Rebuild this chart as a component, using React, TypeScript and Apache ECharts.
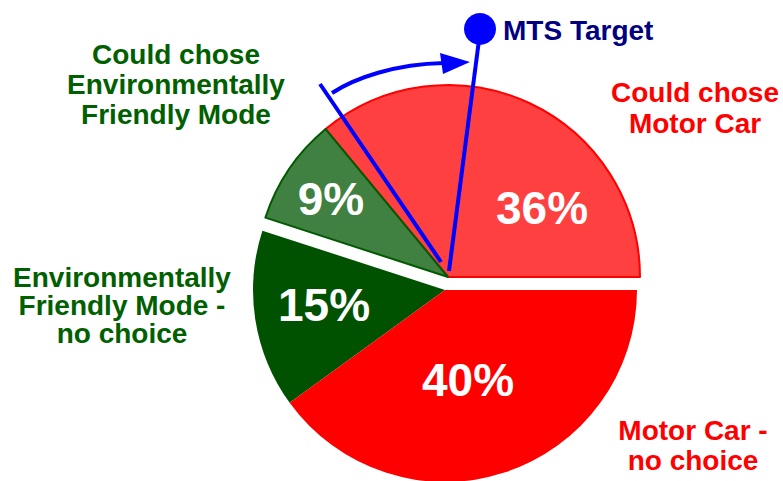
import React, { useEffect, useRef } from "react";
import * as echarts from "echarts";

const categories = [
  "Could chose Motor Car",
  "Could chose Environmentally Friendly Mode",
  "Environmentally Friendly Mode - no choice",
  "Motor Car - no choice",
];
const values = [36, 9, 15, 40];
const exploded = [true, true, false, false];
const sliceColors = ["#FF4040", "#408040", "#005200", "#FF0000"];
const sliceBorders = ["#FF0000", "#005A00", "#005200", "#FF0000"];
const sliceLabels = [
  "Could chose\nMotor Car",
  "Could chose\nEnvironmentally\nFriendly Mode",
  "Environmentally\nFriendly Mode -\nno choice",
  "Motor Car -\nno choice",
];
const targetLabel = "MTS Target";

// layout (not data)
const pctPos = [
  [542, 208],
  [331, 199],
  [324, 305],
  [468, 380],
];
const labelPos = [
  [695, 108, 31],
  [176, 84, 30],
  [122, 305, 28],
  [693, 445, 30],
];
const labelColors = ["#FF0000", "#006000", "#006000", "#FF0000"];

export default function App() {
  const ref = useRef<HTMLDivElement>(null);
  useEffect(() => {
    document.body.style.margin = "0";
    const chart = echarts.init(ref.current!, null, { renderer: "svg" });
    const font = "'Liberation Sans', Arial, sans-serif";
    const mkData = (showExploded: boolean) =>
      values.map((v, i) => {
        const visible = exploded[i] === showExploded;
        return {
          name: categories[i],
          value: v,
          itemStyle: visible
            ? { color: sliceColors[i], borderColor: sliceBorders[i], borderWidth: exploded[i] ? 2 : 0 }
            : { color: "rgba(0,0,0,0)", borderWidth: 0 },
        };
      });
    const pieCommon = {
      type: "pie",
      radius: 192,
      startAngle: 0,
      clockwise: false,
      silent: true,
      label: { show: false },
      labelLine: { show: false },
      emphasis: { disabled: true },
      avoidLabelOverlap: false,
    };
    const graphics: any[] = [];
    values.forEach((v, i) => {
      graphics.push({
        type: "text",
        z: 100,
        x: pctPos[i][0],
        y: pctPos[i][1],
        style: {
          text: `${v}%`,
          fill: "#FFFFFF",
          font: `bold 46px ${font}`,
          align: "center",
          verticalAlign: "middle",
        },
      });
      graphics.push({
        type: "text",
        z: 100,
        x: labelPos[i][0],
        y: labelPos[i][1],
        style: {
          text: sliceLabels[i],
          fill: labelColors[i],
          font: `bold 28px ${font}`,
          lineHeight: labelPos[i][2],
          align: "center",
          verticalAlign: "middle",
        },
      });
    });
    const blue = "#0000FF";
    graphics.push(
      {
        type: "line",
        z: 100,
        shape: { x1: 441, y1: 262, x2: 320, y2: 84 },
        style: { stroke: blue, lineWidth: 4 },
      },
      {
        type: "line",
        z: 100,
        shape: { x1: 449, y1: 271, x2: 479, y2: 40 },
        style: { stroke: blue, lineWidth: 4 },
      },
      {
        type: "bezierCurve",
        z: 100,
        shape: { x1: 332, y1: 93, cpx1: 355, cpy1: 78, cpx2: 395, cpy2: 64, x2: 444, y2: 63 },
        style: { stroke: blue, lineWidth: 4, fill: "none" },
      },
      {
        type: "polygon",
        z: 100,
        shape: { points: [[440, 53], [470, 62], [443, 74]] },
        style: { fill: blue },
      },
      {
        type: "circle",
        z: 100,
        shape: { cx: 480, cy: 29, r: 16 },
        style: { fill: blue },
      },
      {
        type: "text",
        z: 100,
        x: 503,
        y: 30,
        style: {
          text: targetLabel,
          fill: "#000080",
          font: `bold 28px ${font}`,
          align: "left",
          verticalAlign: "middle",
        },
      }
    );
    chart.setOption({
      animation: false,
      backgroundColor: "#FFFFFF",
      series: [
        { ...pieCommon, name: "base", center: [445, 290], data: mkData(false) },
        { ...pieCommon, name: "exploded", center: [448, 277], data: mkData(true) },
      ],
      graphic: { elements: graphics },
    });
    return () => chart.dispose();
  }, []);
  return <div ref={ref} style={{ width: 783, height: 481 }} />;
}
